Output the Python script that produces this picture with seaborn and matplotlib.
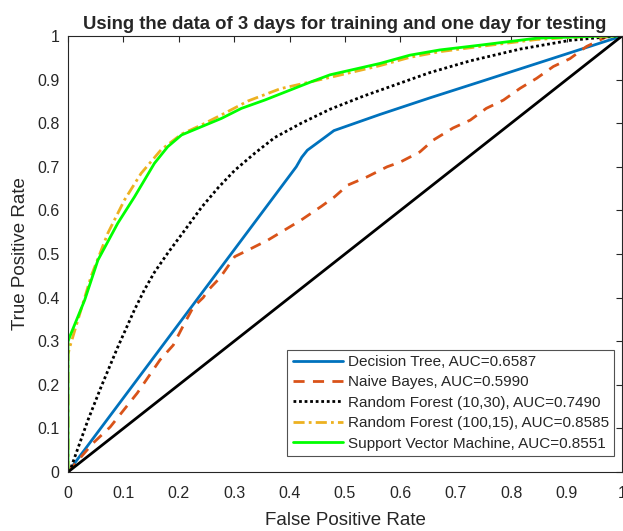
import numpy as np
import pandas as pd
import seaborn as sns
import matplotlib.pyplot as plt

# ROC curves
dt_fpr = [0, 0.412, 0.422, 0.432, 0.447, 0.462, 0.48, 0.563, 0.653, 0.744, 1.0]
dt_tpr = [0, 0.700, 0.722, 0.738, 0.752, 0.766, 0.783, 0.820, 0.858, 0.895, 1.0]

nb_fpr = [0, 0.045, 0.076, 0.125, 0.166, 0.19, 0.207, 0.226, 0.244, 0.253, 0.274,
          0.301, 0.325, 0.361, 0.391, 0.421, 0.457, 0.481, 0.505, 0.54, 0.576,
          0.60, 0.635, 0.659, 0.695, 0.726, 0.755, 0.786, 0.816, 0.846, 0.876,
          0.906, 0.936, 0.972, 1.0]
nb_tpr = [0, 0.066, 0.103, 0.181, 0.257, 0.291, 0.333, 0.378, 0.40, 0.417, 0.445,
          0.494, 0.509, 0.532, 0.555, 0.578, 0.609, 0.631, 0.658, 0.677, 0.70,
          0.711, 0.734, 0.761, 0.789, 0.807, 0.834, 0.853, 0.88, 0.903, 0.93,
          0.948, 0.976, 0.998, 1.0]

rf1_fpr = [0, 0.006, 0.036, 0.06, 0.09, 0.12, 0.138, 0.156, 0.18, 0.211, 0.241,
           0.271, 0.301, 0.337, 0.373, 0.421, 0.473, 0.533, 0.593, 0.653, 0.726,
           0.816, 0.906, 0.99, 1.0]
rf1_tpr = [0, 0.012, 0.119, 0.196, 0.287, 0.372, 0.418, 0.458, 0.502, 0.555, 0.607,
           0.652, 0.692, 0.731, 0.767, 0.800, 0.832, 0.862, 0.889, 0.916, 0.943,
           0.970, 0.990, 1.0, 1.0]

rf2_fpr = [0, 0, 0.004, 0.042, 0.072, 0.102, 0.132, 0.168, 0.205, 0.241, 0.283,
           0.325, 0.383, 0.473, 0.563, 0.617, 0.671, 0.744, 0.846, 0.924, 1.0]
rf2_tpr = [0, 0.27, 0.29, 0.45, 0.548, 0.624, 0.685, 0.739, 0.775, 0.796, 0.823,
           0.851, 0.879, 0.905, 0.932, 0.951, 0.964, 0.976, 0.992, 0.998, 1.0]

svm_fpr = [0, 0, 0.003, 0.03, 0.042, 0.054, 0.09, 0.12, 0.156, 0.18, 0.205, 0.241,
           0.277, 0.313, 0.355, 0.437, 0.473, 0.563, 0.617, 0.671, 0.744, 0.846,
           0.966, 1.0]
svm_tpr = [0, 0.299, 0.31, 0.394, 0.44, 0.486, 0.571, 0.631, 0.708, 0.746, 0.773,
           0.792, 0.811, 0.834, 0.853, 0.894, 0.911, 0.937, 0.956, 0.968, 0.979,
           0.995, 1.0, 1.0]

chance = [0, 1]

labels = ["Decision Tree, AUC=0.6587",
          "Naive Bayes, AUC=0.5990",
          "Random Forest (10,30), AUC=0.7490",
          "Random Forest (100,15), AUC=0.8585",
          "Support Vector Machine, AUC=0.8551"]

sns.set_style("white")
plt.rcParams['font.family'] = ['Liberation Sans', 'DejaVu Sans']

fig = plt.figure(figsize=(6.23, 5.31), dpi=100)
ax = fig.add_axes([68 / 623, 59 / 531, 554 / 623, 436 / 531])

curves = [
    (dt_fpr, dt_tpr, "#0072BD", "-"),
    (nb_fpr, nb_tpr, "#D95319", (0, (4, 3))),
    (rf1_fpr, rf1_tpr, "black", (0, (1, 1))),
    (rf2_fpr, rf2_tpr, "#EDB120", (0, (4, 1.5, 1, 1.5))),
    (svm_fpr, svm_tpr, "#00FF00", "-"),
]
for (fx, fy, col, ls), lab in zip(curves, labels):
    df = pd.DataFrame({"fpr": fx, "tpr": fy})
    sns.lineplot(data=df, x="fpr", y="tpr", ax=ax, sort=False, estimator=None,
                 color=col, linestyle=ls, linewidth=2, label=lab)

sns.lineplot(x=chance, y=chance, ax=ax, color="black", linewidth=2, legend=False)

ax.set_xlim(0, 1)
ax.set_ylim(0, 1)
ticks = np.round(np.arange(0, 1.01, 0.1), 1)
ticklabels = ["0" if t == 0 else ("1" if t == 1 else f"{t:g}") for t in ticks]
ax.set_xticks(ticks)
ax.set_xticklabels(ticklabels)
ax.set_yticks(ticks)
ax.set_yticklabels(ticklabels)
ax.tick_params(direction="in", top=True, right=True, length=4, width=0.8,
               labelsize=11.5, colors="#262626")
ax.tick_params(axis="x", pad=10)
ax.tick_params(axis="y", pad=6)
for s in ax.spines.values():
    s.set_color("#262626")
    s.set_linewidth(0.8)

ax.set_xlabel("False Positive Rate", fontsize=13.5, labelpad=8)
ax.set_ylabel("True Positive Rate", fontsize=13.5, labelpad=6)
ax.set_title("Using the data of 3 days for training and one day for testing",
             fontsize=13.3, fontweight="bold", pad=5)

leg = ax.legend(loc="lower right", bbox_to_anchor=(0.9856, 0.0367), fontsize=11,
                fancybox=False, frameon=True, edgecolor="#262626",
                borderaxespad=0, handlelength=3.3, labelspacing=0.42,
                borderpad=0.35, handletextpad=0.3)
leg.get_frame().set_linewidth(0.8)

fig.savefig("out.png", dpi=100)
